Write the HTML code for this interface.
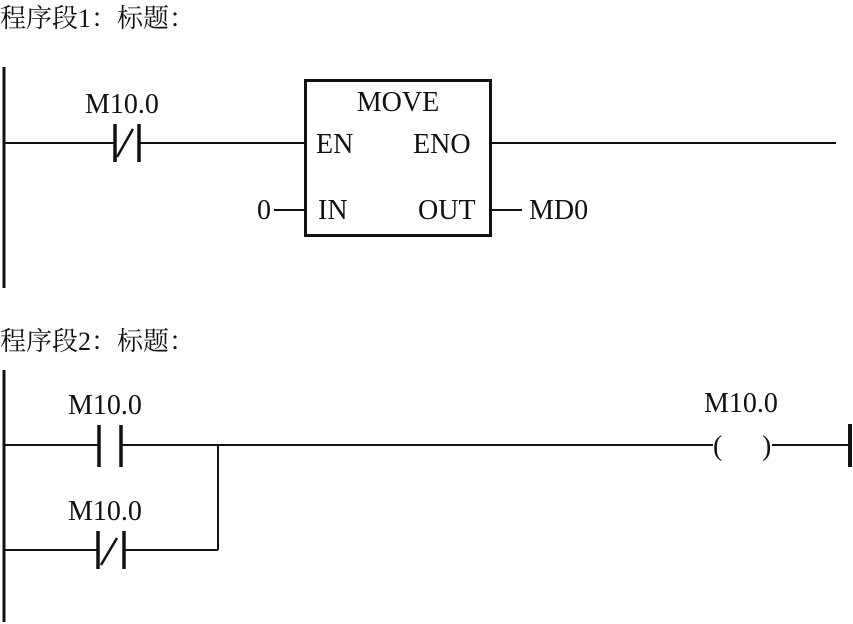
<!DOCTYPE html>
<html><head><meta charset="utf-8"><style>
html,body{margin:0;padding:0;background:#fff;}
svg{display:block;}
text{font-family:"Liberation Serif","Noto Serif CJK SC",serif;fill:#111;}
</style></head><body>
<svg width="853" height="624" viewBox="0 0 853 624" xmlns="http://www.w3.org/2000/svg">
<g stroke="#111" fill="none">
<!-- Network 1 -->
<line x1="4" y1="67" x2="4" y2="288" stroke-width="3"/>
<line x1="4" y1="143" x2="114" y2="143" stroke-width="2"/>
<line x1="115" y1="124" x2="115" y2="162" stroke-width="3.5"/>
<line x1="139" y1="124" x2="139" y2="162" stroke-width="3.5"/>
<line x1="117" y1="157" x2="133" y2="129" stroke-width="2.5"/>
<line x1="140" y1="143" x2="306" y2="143" stroke-width="2"/>
<rect x="305.5" y="80.5" width="185" height="155" stroke-width="3"/>
<line x1="274" y1="210" x2="306" y2="210" stroke-width="2"/>
<line x1="491" y1="210" x2="522" y2="210" stroke-width="2"/>
<line x1="491" y1="143" x2="836" y2="143" stroke-width="2"/>
<!-- Network 2 -->
<line x1="4" y1="370" x2="4" y2="622" stroke-width="3"/>
<line x1="4" y1="445" x2="98" y2="445" stroke-width="2"/>
<line x1="99" y1="425" x2="99" y2="467" stroke-width="3.5"/>
<line x1="121" y1="425" x2="121" y2="467" stroke-width="3.5"/>
<line x1="122" y1="445" x2="713" y2="445" stroke-width="2"/>
<line x1="218" y1="445" x2="218" y2="550" stroke-width="2"/>
<line x1="4" y1="550" x2="97" y2="550" stroke-width="2"/>
<line x1="98" y1="531" x2="98" y2="569" stroke-width="3.5"/>
<line x1="124" y1="531" x2="124" y2="569" stroke-width="3.5"/>
<line x1="101" y1="565" x2="117" y2="538" stroke-width="2.5"/>
<line x1="125" y1="550" x2="218" y2="550" stroke-width="2"/>
<line x1="772" y1="445" x2="850" y2="445" stroke-width="2"/>
<line x1="850" y1="424" x2="850" y2="467" stroke-width="4"/>
</g>
<text x="0" y="27" font-size="26">程序段1：标题：</text>
<text x="85" y="113" font-size="28">M10.0</text>
<text x="398" y="111" font-size="28" text-anchor="middle">MOVE</text>
<text x="316" y="153" font-size="28">EN</text>
<text x="413" y="153" font-size="28">ENO</text>
<text x="318" y="219" font-size="28">IN</text>
<text x="418" y="219" font-size="28">OUT</text>
<text x="257" y="219" font-size="28">0</text>
<text x="529" y="219" font-size="28">MD0</text>
<text x="0" y="350" font-size="26">程序段2：标题：</text>
<text x="68" y="414" font-size="28">M10.0</text>
<text x="68" y="520" font-size="28">M10.0</text>
<text x="704" y="412" font-size="28">M10.0</text>
<text x="713" y="455" font-size="28">(</text>
<text x="762" y="455" font-size="28">)</text>
</svg>
</body></html>
